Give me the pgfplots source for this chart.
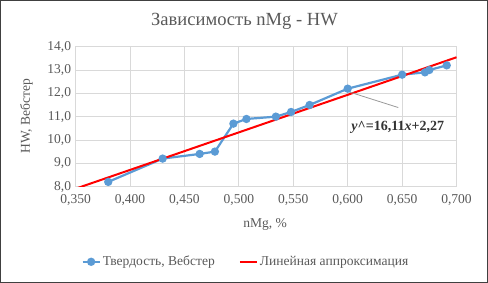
\documentclass[border=0pt]{standalone}
\usepackage{fontspec}
\setmainfont{Liberation Serif}
\usepackage{pgfplots}
\pgfplotsset{compat=1.18}
\definecolor{txt}{HTML}{595959}
\definecolor{grd}{HTML}{D9D9D9}
\definecolor{ser}{HTML}{5B9BD5}
\begin{document}
\begin{tikzpicture}[x=1pt,y=1pt]
\draw[black!75, line width=0.8pt] (-75,-95.3) rectangle (411,185.7);
\begin{axis}[at={(0,0)}, anchor=south west, scale only axis,
  width=380pt, height=139.5pt,
  xmin=0.35, xmax=0.70, ymin=8, ymax=14,
  xtick={0.35,0.40,0.45,0.50,0.55,0.60,0.65,0.70},
  ytick={8,9,10,11,12,13,14},
  grid=major, major grid style={grd, line width=0.8pt},
  axis line style={grd, line width=0.8pt},
  tick style={draw=none},
  /pgf/number format/assume math mode=true,
  x tick label style={/pgf/number format/fixed, /pgf/number format/fixed zerofill, /pgf/number format/precision=3, /pgf/number format/use comma, yshift=-4pt},
  y tick label style={/pgf/number format/fixed, /pgf/number format/fixed zerofill, /pgf/number format/precision=1, /pgf/number format/use comma, xshift=-1pt},
  ticklabel style={font=\fontsize{13.5}{15}\selectfont, text=txt},
  clip=true,
  legend columns=2,
  legend style={at={(0.447,-0.538)}, anchor=center, draw=none, fill=none,
    font=\fontsize{13.5}{15}\selectfont, text=txt,
    /tikz/every even column/.append style={column sep=22pt}},
  legend cell align=left,
]
\addplot[ser, line width=2.2pt, mark=*, mark size=3pt, mark options={fill=ser, draw=ser}]
 coordinates {
 (0.380,8.2) (0.430,9.2) (0.464,9.4) (0.478,9.5) (0.495,10.7) (0.507,10.9)
 (0.534,11.0) (0.548,11.2) (0.565,11.5) (0.600,12.2) (0.650,12.8)
 (0.671,12.9) (0.675,13.0) (0.691,13.2)
 };
\addlegendentry{Твердость, Вебстер}
\addplot[red, line width=2pt] coordinates {(0.35,7.9085) (0.70,13.547)};
\addlegendentry{Линейная аппроксимация}
\draw[gray!80, line width=0.8pt] (axis cs:0.6,12.08) -- (axis cs:0.6465,11.39);
\node[text=black!80, font=\fontsize{14}{16}\selectfont\bfseries] at (axis cs:0.646,10.53) {\textit{y}\^{}=16,11\textit{x}+2,27};
\end{axis}
\node[text=txt, font=\fontsize{18.5}{21}\selectfont] at (168.5,164.7) {Зависимость nMg - HW};
\node[text=txt, font=\fontsize{13.5}{15}\selectfont] at (189,-38.3) {nMg, \%};
\node[text=txt, font=\fontsize{13.5}{15}\selectfont, rotate=90] at (-49,70) {HW, Вебстер};
\end{tikzpicture}
\end{document}
